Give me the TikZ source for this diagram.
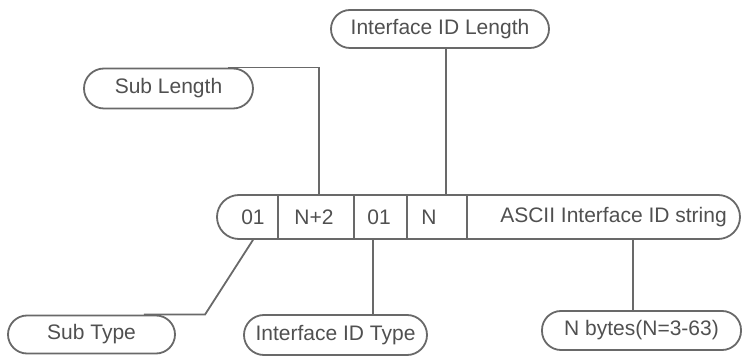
\documentclass[tikz,border=0pt]{standalone}
\usepackage{fontspec}
\setmainfont{Liberation Sans}
\definecolor{linegray}{RGB}{105,105,105}
\definecolor{textgray}{RGB}{80,80,80}
\tikzset{
  lbl/.style={draw=linegray, line width=1.8pt, rectangle, rounded corners=19pt,
    inner sep=0pt, minimum height=38pt, text=textgray,
    font=\fontsize{21}{24}\selectfont},
  conn/.style={draw=linegray, line width=1.8pt},
  bartxt/.style={text=textgray, font=\fontsize{21}{24}\selectfont, inner sep=0pt}
}
\begin{document}
\begin{tikzpicture}[x=1pt,y=1pt]
\useasboundingbox (0,0) rectangle (742,356);
% labels
\node[lbl, minimum width=218pt] (IDLen) at (440,327) {Interface ID Length};
\node[lbl, minimum width=169pt, minimum height=40pt, rounded corners=20pt] (SubLen) at (168.5,267.5) {Sub Length};
\node[lbl, minimum width=167pt] (SubType) at (91.5,21.5) {Sub Type};
\node[lbl, minimum width=183pt, minimum height=40pt, rounded corners=20pt] (IDType) at (335.5,21) {Interface ID Type};
\node[lbl, minimum width=199pt, minimum height=39pt] (NBytes) at (641.5,25.5) {N bytes(N=3-63)};
% bar
\node[draw=linegray, line width=1.8pt, rectangle, rounded corners=22pt,
  minimum width=523pt, minimum height=44pt, inner sep=0pt] (bar) at (478.5,139) {};
% column positions
\coordinate (d1) at (278,0);
\coordinate (d2) at (354,0);
\coordinate (d3) at (407,0);
\coordinate (d4) at (467,0);
\coordinate (cSL) at (319,0);
\coordinate (cIL) at (446,0);
\coordinate (cST) at (253,0);
\coordinate (cIT) at (373,0);
\coordinate (cNB) at (633,0);
\coordinate (kST) at (205,0);
% dividers
\foreach \d in {d1,d2,d3,d4}
  \draw[conn] (bar.north -| \d) -- (bar.south -| \d);
% bar texts
\node[bartxt] (t1) at (253,139) {01};
\node[bartxt] (t2) at (314,139) {N+2};
\node[bartxt] (t3) at (379,139) {01};
\node[bartxt] (t4) at (429,139) {N};
\node[bartxt] (t5) at (613.5,139) {ASCII Interface ID string};
% connectors
\draw[conn] ([xshift=-26pt]SubLen.north east) -| (bar.north -| cSL);
\draw[conn] (IDLen.south -| cIL) -- (bar.north -| cIL);
\draw[conn] (bar.south -| cST) -- (SubType.north -| kST) -- ([xshift=-32pt]SubType.north east);
\draw[conn] (bar.south -| cIT) -- (IDType.north -| cIT);
\draw[conn] (bar.south -| cNB) -- (NBytes.north -| cNB);
\end{tikzpicture}
\end{document}
